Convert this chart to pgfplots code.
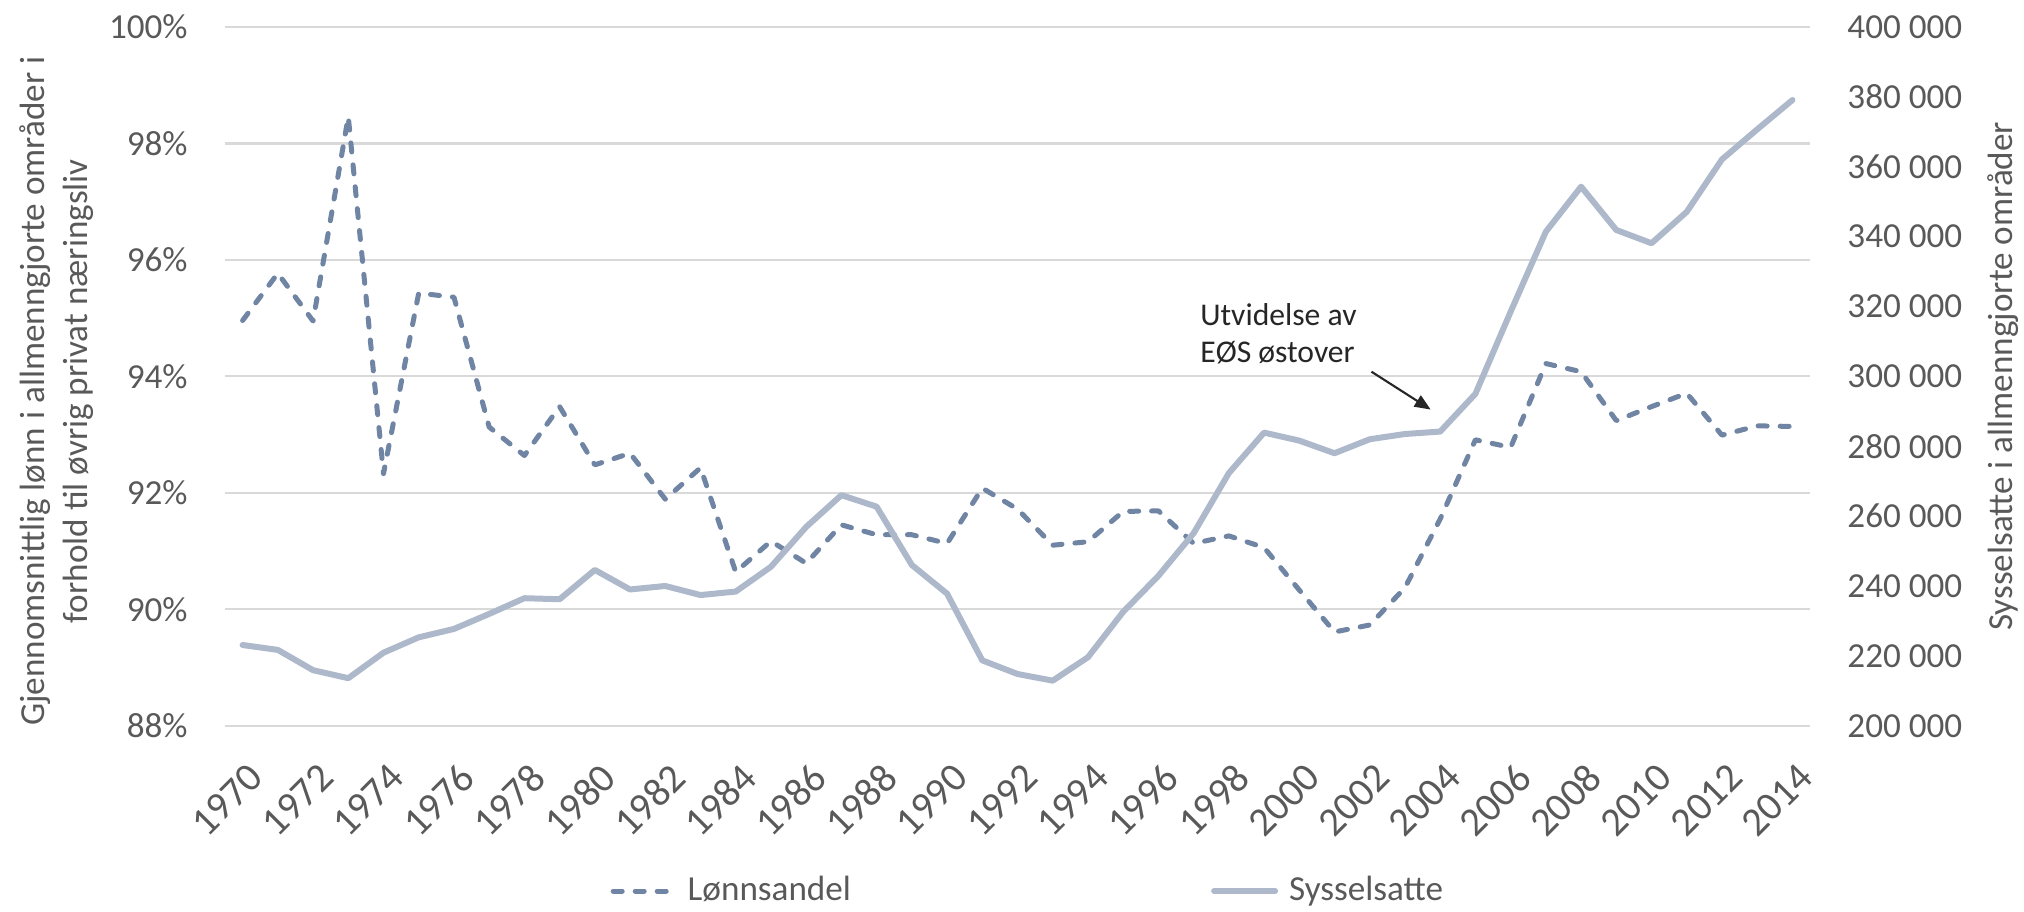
\documentclass[border=0pt]{standalone}
\usepackage{fontspec}
\setmainfont{Carlito}
\usepackage{pgfplots}
\usepackage{pgfplotstable}
\pgfplotsset{compat=1.18}
\usetikzlibrary{arrows.meta}

\definecolor{lonn}{RGB}{112,132,163}
\definecolor{syss}{RGB}{173,185,202}
\definecolor{txtgray}{RGB}{89,89,89}
\definecolor{gridgray}{RGB}{217,217,217}
\definecolor{annot}{RGB}{38,38,38}

% year, wage share (%), employed in covered sectors
\pgfplotstableread{
year lonn  syss
1970 94.96 223100
1971 95.77 221700
1972 94.95 215900
1973 98.46 213600
1974 92.33 220900
1975 95.43 225300
1976 95.36 227700
1977 93.13 232000
1978 92.64 236500
1979 93.48 236200
1980 92.48 244600
1981 92.68 239000
1982 91.89 240000
1983 92.43 237400
1984 90.64 238400
1985 91.17 245500
1986 90.79 256900
1987 91.45 266000
1988 91.28 262700
1989 91.28 246000
1990 91.13 237800
1991 92.08 218700
1992 91.72 214800
1993 91.10 212900
1994 91.16 219600
1995 91.68 232600
1996 91.69 242900
1997 91.13 255100
1998 91.26 272300
1999 91.06 283900
2000 90.33 281600
2001 89.61 278000
2002 89.73 282000
2003 90.37 283500
2004 91.55 284200
2005 92.91 295000
2006 92.78 318500
2007 94.22 341400
2008 94.08 354300
2009 93.24 341900
2010 93.48 338100
2011 93.71 347100
2012 92.99 362100
2013 93.15 370700
2014 93.14 379100
}\datatable

\pgfplotsset{
  base/.style={
    scale only axis, width=158.5mm, height=69.87mm,
    at={(22.5mm,18.53mm)}, anchor=south west,
    xmin=1969.5, xmax=2014.5,
    axis line style={draw=none},
    major tick length=0pt,
    tick label style={font=\fontsize{10}{12}\selectfont, text=txtgray},
  },
  lonnstyle/.style={lonn, line width=0.5mm, dash pattern=on 0.9mm off 1.3mm,
    line cap=round, line join=round},
  syssstyle/.style={syss, line width=0.6mm, line cap=round, line join=round},
}

\begin{document}
\begin{tikzpicture}
\path[use as bounding box] (0,0) rectangle (202.4mm,91.1mm);

\begin{axis}[base,
  ymin=88, ymax=100, ytick={88,90,...,100},
  yticklabels={88\%,90\%,92\%,94\%,96\%,98\%,100\%},
  yticklabel style={xshift=-2.5mm},
  ymajorgrids, grid style={gridgray, line width=0.6pt},
  xtick={1970,1972,...,2014},
  xticklabels={1970,1972,1974,1976,1978,1980,1982,1984,1986,1988,1990,1992,
               1994,1996,1998,2000,2002,2004,2006,2008,2010,2012,2014},
  xticklabel style={font=\fontsize{11.5}{13}\selectfont,
                    xshift=1.4mm, yshift=-4.5mm, rotate=45, anchor=east,
                    inner sep=0pt},
  every axis y label/.style={at={(axis description cs:-0.106,0.479)},
    anchor=center, rotate=90, align=center,
    font=\fontsize{10}{12.2}\selectfont, text=txtgray},
  ylabel={Gjennomsnittlig lønn i allmenngjorte områder i\\forhold til øvrig privat næringsliv},
  legend columns=2,
  legend style={at={(axis description cs:0.2429,-0.2366)}, anchor=west,
    draw=none, fill=none, inner sep=0pt,
    font=\fontsize{10}{12}\selectfont, text=txtgray,
    nodes={inner sep=0.5mm},
    /tikz/every odd column/.append style={column sep=0.6mm},
    /tikz/every even column/.append style={column sep=35.5mm}},
  legend image code/.code={\draw[#1] (0mm,0mm) -- (6.1mm,0mm);},
]
  \addplot[lonnstyle] table[x=year, y=lonn] {\datatable};
  \addlegendentry{Lønnsandel}
  \addlegendimage{syssstyle}
  \addlegendentry{Sysselsatte}

  \node[anchor=base west, inner sep=0pt, font=\fontsize{9}{11}\selectfont,
        text=annot]
    at (axis cs:1997.17,94.88) {Utvidelse av};
  \node[anchor=base west, inner sep=0pt, font=\fontsize{9}{11}\selectfont,
        text=annot]
    at (axis cs:1997.17,94.23) {EØS østover};
  \draw[-{Triangle[length=1.6mm,width=1.3mm]}, line width=0.6pt, annot]
    (axis cs:2002.05,94.08) -- (axis cs:2003.73,93.43);
\end{axis}

\begin{axis}[base,
  hide x axis,
  axis y line*=right,
  ymin=200000, ymax=400000, ytick={200000,220000,...,400000},
  scaled y ticks=false,
  yticklabels={200 000,220 000,240 000,260 000,280 000,300 000,
               320 000,340 000,360 000,380 000,400 000},
  yticklabel style={xshift=2.5mm},
  every axis y label/.style={at={(axis description cs:1.1218,0.5)},
    anchor=center, rotate=90,
    font=\fontsize{10}{12}\selectfont, text=txtgray},
  ylabel={Sysselsatte i allmenngjorte områder},
]
  \addplot[syssstyle] table[x=year, y=syss] {\datatable};
\end{axis}
\end{tikzpicture}
\end{document}
